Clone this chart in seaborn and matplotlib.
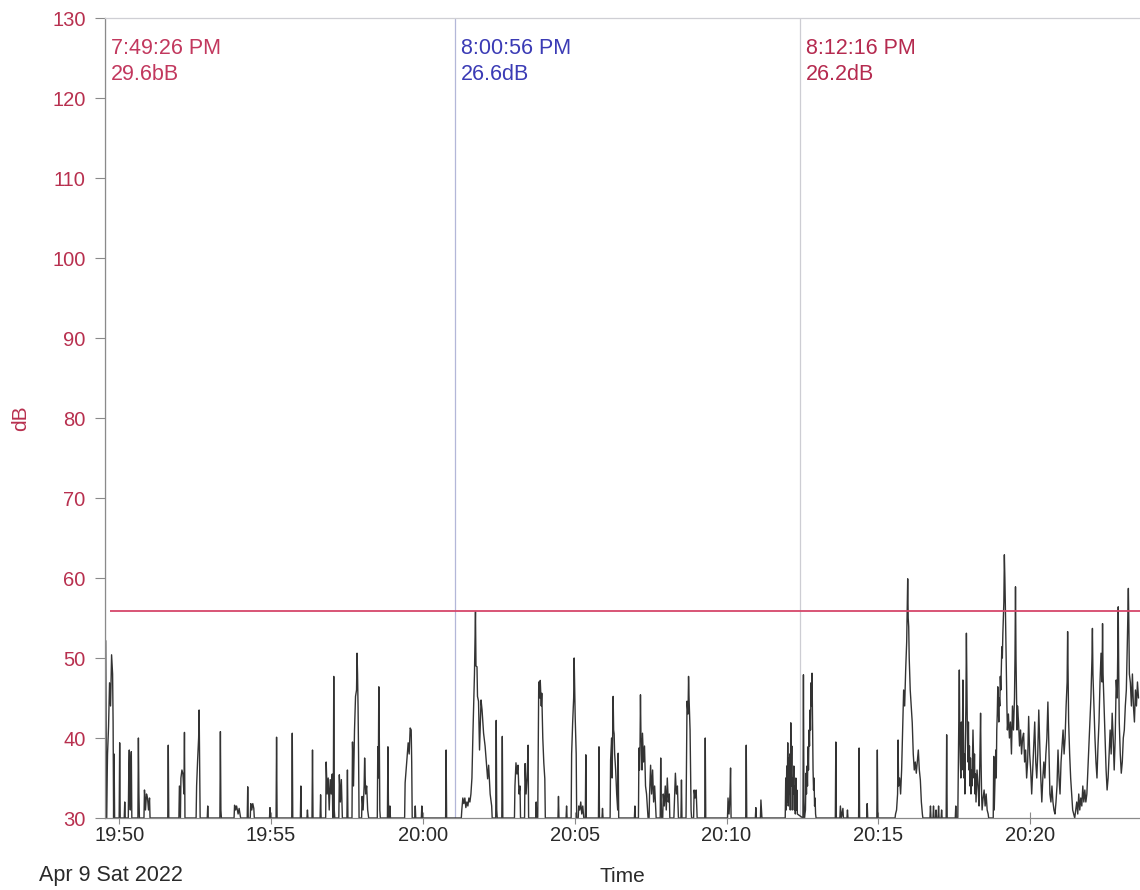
import numpy as np
import pandas as pd
import seaborn as sns
import matplotlib.pyplot as plt
import matplotlib.dates as mdates

# time axis window (clock of the meter)
start = "2022-04-09 19:49:32"
end = "2022-04-09 20:23:37"

# sound level trace, seconds after start / dB
t_sec = [
    0, 1, 2, 3, 5, 7, 9, 11, 13, 15, 16, 17, 18, 19,
    28, 29, 30, 38, 39, 40,
    46, 47, 48, 49, 50, 51, 52, 53,
    65, 66, 67, 68, 77, 78, 80, 82, 84, 86, 88, 89,
    124, 125, 126, 146, 147, 149, 150, 152, 154, 156, 157, 158,
    180, 181, 183, 185, 186, 187, 188, 202, 203, 204,
    227, 228, 229, 230, 255, 256, 258, 260, 263, 265, 268,
    281, 282, 283, 287, 288, 290, 292, 294, 295,
    325, 326, 327, 338, 339, 340, 369, 370, 371, 386, 387, 388,
    399, 400, 401, 409, 410, 411, 425, 426, 427,
    436, 437, 439, 441, 443, 445, 447, 449, 450, 451, 452, 453, 454,
    462, 463, 465, 467, 469, 478, 479, 480,
    488, 489, 491, 493, 495, 497, 498, 499, 500, 501, 502,
    507, 508, 510, 512, 513, 515, 517, 519, 521,
    538, 539, 540, 541, 542, 543, 544, 558, 559, 560, 561, 562, 563, 564,
    592, 593, 595, 597, 599, 601, 603, 605, 606, 607, 612, 613, 614, 625, 626, 627,
    673, 674, 675,
    704, 705, 707, 709, 711, 713, 715, 717, 719, 721, 723, 725,
    727, 730, 732, 733, 735, 736, 738, 740, 743, 745, 748, 751, 754, 756, 758, 761, 764, 765,
    772, 773, 774, 775, 784, 785, 786,
    809, 810, 812, 814, 816, 818, 820, 821, 829, 830, 832, 834, 836, 837,
    851, 852, 853, 855, 856, 857, 859, 860, 862, 863, 865, 867, 869, 870,
    895, 896, 897, 911, 912, 913, 921, 922, 924, 926, 927, 929, 931, 932,
    935, 936, 938, 940, 942, 944, 946, 949, 950, 951,
    975, 976, 977, 982, 983, 984,
    998, 999, 1001, 1002, 1004, 1005, 1006, 1007, 1009, 1011, 1013, 1014, 1015,
    1046, 1047, 1048,
    1054, 1055, 1056, 1057, 1058, 1059, 1060, 1061, 1062, 1064, 1066, 1068, 1070, 1072, 1073,
    1075, 1076, 1078, 1080, 1082, 1084, 1086, 1088, 1089,
    1097, 1098, 1099, 1100, 1102, 1103, 1105, 1107, 1109, 1111, 1113, 1115, 1116,
    1124, 1125, 1127, 1129, 1131, 1133, 1138, 1139, 1140,
    1148, 1149, 1150, 1152, 1153, 1154, 1156, 1157, 1158, 1159,
    1163, 1164, 1166, 1168, 1170, 1185, 1186, 1187,
    1230, 1231, 1233, 1235, 1236, 1237, 1266, 1267, 1268,
    1285, 1286, 1287, 1295, 1296, 1297, 1298,
    1344, 1345, 1346, 1347, 1348, 1349, 1350, 1351, 1352, 1353, 1354, 1355, 1356,
    1357, 1358, 1359, 1360, 1361, 1362, 1363, 1364, 1365, 1366, 1367, 1368,
    1379, 1380, 1381, 1382, 1384, 1385, 1386, 1387, 1388, 1389, 1390, 1391, 1392,
    1393, 1394, 1395, 1396, 1397, 1398, 1399, 1400, 1401, 1402, 1403, 1404, 1405,
    1443, 1444, 1445, 1452, 1453, 1455, 1458, 1459, 1466, 1467, 1468,
    1489, 1490, 1491, 1505, 1506, 1507, 1525, 1526, 1527,
    1561, 1562, 1564, 1566, 1567, 1568, 1570, 1572, 1574, 1578, 1580, 1582, 1584, 1586, 1587,
    1588, 1589, 1591, 1593, 1595, 1597, 1599, 1601, 1603, 1605, 1607, 1609, 1611, 1613, 1615, 1616,
    1630, 1631, 1632, 1636, 1637, 1638, 1641, 1642, 1643, 1646, 1647, 1648, 1652, 1653, 1654,
    1662, 1663, 1664, 1680, 1681, 1682,
    1685, 1686, 1687, 1688, 1689, 1690, 1691, 1692, 1693, 1694, 1695, 1696, 1697, 1698, 1699,
    1700, 1701, 1702, 1703, 1704, 1705, 1706, 1707, 1708, 1709, 1710, 1711, 1712, 1713,
    1715, 1716, 1717, 1718, 1719, 1720, 1721, 1723, 1725, 1727, 1728, 1730, 1731, 1732, 1733,
    1735, 1737, 1739, 1741, 1743, 1745, 1746,
    1755, 1756, 1757, 1759, 1760, 1761, 1762, 1763, 1764, 1765, 1766, 1767, 1768, 1769, 1770,
    1771, 1772, 1773, 1774, 1775, 1776, 1777, 1778, 1779, 1780, 1781, 1782, 1783,
    1785, 1787, 1789, 1791, 1793, 1795, 1797, 1798, 1799, 1800, 1801, 1802, 1803,
    1805, 1807, 1809, 1811, 1813, 1815, 1817, 1819, 1821, 1823, 1825, 1827, 1829, 1831, 1833,
    1835, 1837, 1839, 1841, 1843, 1845, 1847, 1849, 1851, 1853, 1855, 1857, 1859, 1861, 1863,
    1865, 1867, 1869, 1871, 1873,
    1875, 1877, 1879, 1881, 1883, 1885, 1887, 1889, 1891, 1893, 1895, 1897, 1899, 1901, 1902,
    1903, 1904, 1906, 1908, 1910, 1912, 1914, 1916,
    1918, 1920, 1922, 1924, 1926, 1928, 1930, 1932, 1934, 1936, 1938,
    1940, 1942, 1944, 1946, 1948, 1950, 1951, 1952, 1954, 1956, 1958, 1960, 1962, 1964, 1966,
    1968, 1970, 1971, 1972, 1974, 1976, 1978, 1980, 1982,
    1984, 1986, 1988, 1990, 1992, 1994, 1996, 1998, 2000, 2002, 2003, 2004, 2006, 2008, 2010,
    2012, 2014, 2016, 2018, 2020, 2022, 2023, 2024, 2026, 2028, 2030, 2032, 2034, 2036, 2038,
    2040, 2042,
]
level_db = [
    30, 52.2, 44, 30, 38, 41.4, 46.9, 44, 50.4, 48, 42, 30, 38, 30,
    30, 39.4, 30, 30, 32, 30,
    30, 36, 38.5, 33, 31, 37, 38.3, 30,
    30, 40, 33, 30, 30, 33.5, 31, 33, 32.5, 31, 32.5, 30,
    30, 39.1, 30, 30, 34, 30, 35, 36, 35.5, 33, 40.7, 30,
    30, 34, 37.25, 40, 43.5, 36, 30, 30, 31.5, 30,
    30, 40.8, 31, 30, 30, 31.6, 31, 31.5, 30.5, 31.2, 30,
    30, 33.9, 30, 30, 31.8, 31, 31.8, 31.2, 30,
    30, 31.3, 30, 30, 40.1, 30, 30, 40.6, 30, 30, 34, 30,
    30, 31, 30, 30, 38.5, 30, 30, 32.9, 30,
    30, 37, 33, 35, 31, 34.8, 33, 35.5, 30, 30, 47.7, 31, 30,
    30, 35.4, 32, 34.8, 30, 30, 36, 30,
    30, 39.5, 34, 41, 45.2, 46, 50.6, 48, 43.9, 38, 30,
    30, 32.7, 31, 34, 37.5, 33, 34, 31, 30,
    30, 38.9, 35, 46.4, 40, 31, 30, 30, 38.9, 32, 30, 30, 31.5, 30,
    30, 34.4, 36, 37.7, 39.4, 38, 41.25, 41, 37, 30, 30, 31.5, 30, 30, 31.5, 30,
    30, 38.5, 30,
    30, 31, 32.5, 31.8, 32.5, 31.3, 32, 31.5, 32.5, 32, 33, 35,
    40.6, 48, 55.8, 49, 48.9, 45.2, 44.6, 38.5, 44.75, 43.5, 40.6, 39, 36.6, 34.9, 36.6, 33, 31.5, 30,
    30, 42.2, 31, 30, 30, 40.2, 30,
    30, 34, 36.9, 35.5, 36.6, 33, 34, 30, 30, 36.8, 33, 35, 39.1, 30,
    30, 32, 30, 30, 38, 47, 45, 47.2, 44, 45.6, 40, 36.9, 34.9, 30,
    30, 32.7, 30, 30, 31.5, 30, 30, 38, 41.9, 45, 50, 42.7, 38, 30,
    30, 31.5, 31, 32, 30.5, 31.5, 30, 30, 37.9, 30,
    30, 38.9, 30, 30, 31.2, 30,
    30, 37.25, 40, 35, 45.2, 41, 40.5, 38, 36, 33, 31, 38.1, 30,
    30, 31.5, 30,
    30, 38.75, 36, 38, 45.4, 40, 39.5, 36, 40.6, 37, 39, 34, 33, 31, 30,
    30, 33, 36.6, 33, 36, 32, 34, 31.5, 30,
    30, 37.5, 32, 30, 30, 33, 31.5, 34, 31, 35, 32, 33, 30,
    30, 32, 35.6, 33, 34, 30, 30, 34.75, 30,
    30, 38, 44.6, 43, 47.7, 45, 41, 36, 31, 30,
    30, 33.5, 32.5, 33.5, 30, 30, 40, 30,
    30, 32.5, 30.5, 33, 36.25, 30, 30, 39.1, 30,
    30, 31.3, 30, 30, 32.25, 31, 30,
    30, 35, 31, 36.5, 32, 39.4, 31.5, 37.5, 33, 38, 31, 41.9, 34,
    39, 31, 35, 33, 36.5, 31, 34, 30.5, 35, 31, 33.5, 30.5,
    30, 47.9, 32, 30, 31, 35.6, 33, 36.5, 34, 38.9, 36, 41, 39,
    43.5, 41, 46.9, 44, 48.1, 42, 36, 33.5, 35, 31.5, 32.5, 30.5, 30,
    30, 39.5, 30, 30, 31.5, 30, 31.2, 30, 30, 31, 30,
    30, 38.75, 30, 30, 31.8, 30, 30, 38.5, 30,
    30, 30.5, 31, 33, 39.75, 34, 35, 33, 36, 46, 44, 48.5, 52, 59.9, 55,
    53.9, 50, 46, 44, 41.9, 38, 36, 37, 35.6, 37, 38.5, 36, 34.75, 32, 30.5, 30,
    30, 31.5, 30, 30, 31.5, 30, 30, 31, 30, 30, 31.5, 30, 30, 31, 30,
    30, 40.4, 30, 30, 31.5, 30,
    30, 36, 42, 48.5, 40, 37, 35, 42, 36, 38, 47.25, 40, 35, 38, 33,
    40, 44, 53.1, 46, 40, 37, 42, 36, 39, 34, 37.5, 33, 36, 34,
    41, 38, 35, 38, 33, 35.5, 32, 36, 34, 31.5, 35, 43.1, 37, 33, 31,
    32.5, 33.5, 31.5, 33, 31, 30.5, 30,
    30, 37.7, 31, 36, 38.5, 35, 41, 43, 46.4, 44, 42, 45, 44, 47.7, 46,
    49, 51.4, 50, 53, 55.2, 57, 62.9, 60, 56.4, 52, 47, 44, 41,
    43, 40, 42, 38, 44, 41, 45, 50, 58.9, 50, 45, 41, 44,
    42, 39, 41, 38, 40, 40.6, 37, 38.5, 35, 37, 42.7, 38, 36, 33, 36,
    39, 42, 37, 35, 38, 43.5, 39, 35, 32, 35, 37, 35, 38, 40, 44.5,
    39, 33, 32, 34, 32,
    31, 30.5, 32, 34, 38.5, 35, 33, 37, 39, 41, 38, 40, 44, 47, 53.3,
    47, 42, 38, 35, 33, 31, 30.5, 30,
    31, 32, 30.5, 33, 31, 32.5, 31.5, 34, 32, 33.5, 32,
    33, 36, 38.9, 42, 45, 49.75, 53.7, 48, 44, 40, 37, 35, 39, 42, 47,
    50.6, 47, 54.3, 48, 44, 40, 36, 33.5, 35,
    38, 41, 38, 43.1, 40, 36, 40, 47.25, 45, 56.4, 48, 42, 38, 35.6, 37,
    40, 41, 44, 46, 52, 58.7, 54, 48, 46.9, 44, 48, 44, 42, 46, 44,
    47, 45,
]

# alarm limit line
limit_db = 55.9
limit_from = "2022-04-09 19:49:42"

# cursors
cursor_times = ["2022-04-09 19:49:32", "2022-04-09 20:01:04", "2022-04-09 20:12:26"]
cursor_clock = ["7:49:26 PM", "8:00:56 PM", "8:12:16 PM"]
cursor_level = ["29.6bB", "26.6dB", "26.2dB"]
cursor_colors = ["#c2385e", "#3b3bb5", "#b52a4f"]
cursor_line_colors = ["#c8c8d0", "#b3b7d8", "#cdcdd3"]

y_ticks = list(range(30, 131, 10))

sns.set_style("ticks")
plt.rcParams['font.family'] = ['Liberation Sans', 'DejaVu Sans']

fig = plt.figure(figsize=(11.4, 8.9), dpi=100)
ax = fig.add_axes([105 / 1140, 1 - 818 / 890, 1 - 105 / 1140, 800 / 890])

df = pd.DataFrame({
    "Time": pd.Timestamp(start) + pd.to_timedelta(t_sec, unit="s"),
    "dB": level_db,
})
sns.lineplot(data=df, x="Time", y="dB", ax=ax, color="#333333", lw=1.0,
             estimator=None, sort=False)

# limit and cursor lines
x0 = mdates.date2num(pd.Timestamp(limit_from))
x1 = mdates.date2num(pd.Timestamp(end))
ax.hlines(limit_db, x0, x1, color="#d6476a", lw=1.3, zorder=3)
for t, lc in zip(cursor_times, cursor_line_colors):
    ax.axvline(pd.Timestamp(t), color=lc, lw=0.9, zorder=1)
for t, clk, lvl, c in zip(cursor_times, cursor_clock, cursor_level, cursor_colors):
    ax.annotate(clk, xy=(pd.Timestamp(t), 130), xytext=(4, -22), textcoords="offset points",
                ha="left", va="center", fontsize=15.5, color=c)
    ax.annotate(lvl, xy=(pd.Timestamp(t), 130), xytext=(4, -41), textcoords="offset points",
                ha="left", va="center", fontsize=15.5, color=c)

ax.set_xlim(pd.Timestamp(start), pd.Timestamp(end))
ax.set_ylim(30, 130)
ax.set_yticks(y_ticks)
ax.xaxis.set_major_locator(mdates.MinuteLocator(byminute=range(0, 60, 5)))
ax.xaxis.set_major_formatter(mdates.DateFormatter("%H:%M"))

ax.spines["right"].set_visible(False)
ax.spines["top"].set_color("#cfcfd4")
ax.spines["left"].set_color("#8a8a8a")
ax.spines["bottom"].set_color("#8a8a8a")
for s in ax.spines.values():
    s.set_linewidth(0.9)

ax.tick_params(axis="y", direction="out", length=7, width=0.8, color="#8a8a8a",
               labelsize=14.5, labelcolor="#b8304f", pad=7)
ax.tick_params(axis="x", direction="inout", length=8, width=0.8, color="#8a8a8a",
               labelsize=14.5, labelcolor="#2a2a2a", pad=2)

ax.set_ylabel("dB", fontsize=15, color="#b8304f", va="center")
ax.yaxis.set_label_coords(-0.082, 0.5)
ax.set_xlabel("Time", fontsize=15, color="#2a2a2a")
ax.xaxis.set_label_coords(0.5, -0.061)

fig.text(111 / 1140, 1 - 876 / 890, "Apr 9 Sat 2022", ha="center", va="center",
         fontsize=15.5, color="#2a2a2a")

plt.savefig("out.png", dpi=100)
